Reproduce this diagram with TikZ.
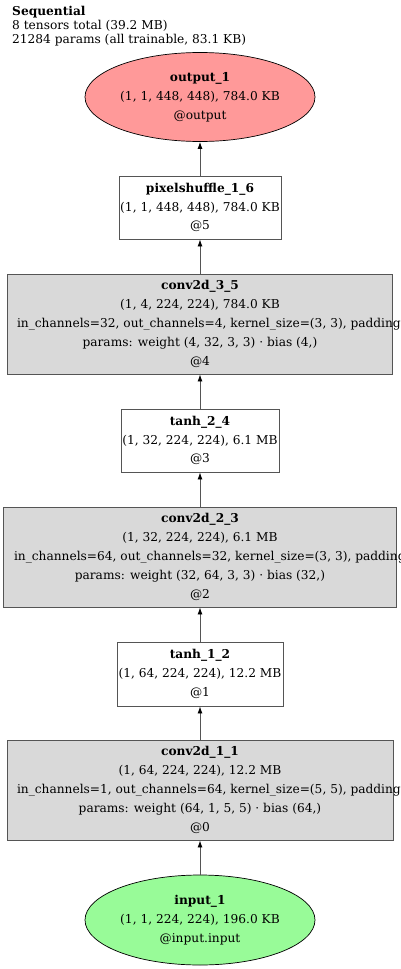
\documentclass[tikz,border=0pt]{standalone}
\usepackage{fontspec}
\setmainfont{DejaVu Serif}
\usetikzlibrary{arrows.meta,shapes.geometric}
\definecolor{tgEdge}{HTML}{555555}
\definecolor{tgOpFill}{HTML}{D9D9D9}
\definecolor{tgOut}{HTML}{FF9999}
\definecolor{tgIn}{HTML}{98FB98}

\begin{document}
\begin{tikzpicture}[x=1pt,y=-1pt,
    font=\fontsize{12.2}{18.8}\selectfont,
    opbox/.style={draw=tgEdge,line width=0.9pt,fill=tgOpFill,rectangle,
                  inner sep=0pt,align=center},
    actbox/.style={opbox,fill=white},
    tnode/.style={ellipse,draw=black,line width=0.7pt,inner sep=0pt,align=center,
                  minimum width=230pt,minimum height=89pt},
    arr/.style={-{Latex[length=7pt,width=5pt,color=black]},tgEdge,line width=0.9pt}]
  \clip (0,0) rectangle (400,969);
  \node[anchor=north west,align=left,inner sep=0pt,font=\fontsize{12.2}{14}\selectfont] (hdr) at (12,6)
    {\textbf{Sequential}\\8 tensors total (39.2 MB)\\21284 params (all trainable, 83.1 KB)};
  \node[tnode,fill=tgOut] (out1) at (200,97)
    {\textbf{output\_1}\\(1, 1, 448, 448), 784.0 KB\\@output};
  \node[actbox,minimum width=162pt,minimum height=63pt] (ps16) at (200,207.5)
    {\textbf{pixelshuffle\_1\_6}\\(1, 1, 448, 448), 784.0 KB\\@5};
  \node[opbox,minimum width=385pt,minimum height=100pt] (conv35) at (200,324)
    {\textbf{conv2d\_3\_5}\\(1, 4, 224, 224), 784.0 KB\\
     \makebox[366pt][l]{in\_channels=32, out\_channels=4, kernel\_size=(3, 3), padding}\\
     params: weight (4, 32, 3, 3) · bias (4,)\\@4};
  \node[actbox,minimum width=158pt,minimum height=63pt] (tanh24) at (200,440.5)
    {\textbf{tanh\_2\_4}\\(1, 32, 224, 224), 6.1 MB\\@3};
  \node[opbox,minimum width=393pt,minimum height=100pt] (conv23) at (200,557)
    {\textbf{conv2d\_2\_3}\\(1, 32, 224, 224), 6.1 MB\\
     \makebox[372pt][l]{in\_channels=64, out\_channels=32, kernel\_size=(3, 3), padding}\\
     params: weight (32, 64, 3, 3) · bias (32,)\\@2};
  \node[actbox,minimum width=166pt,minimum height=64pt] (tanh12) at (200,674)
    {\textbf{tanh\_1\_2}\\(1, 64, 224, 224), 12.2 MB\\@1};
  \node[opbox,minimum width=386pt,minimum height=100pt] (conv11) at (200,790)
    {\textbf{conv2d\_1\_1}\\(1, 64, 224, 224), 12.2 MB\\
     \makebox[366pt][l]{in\_channels=1, out\_channels=64, kernel\_size=(5, 5), padding}\\
     params: weight (64, 1, 5, 5) · bias (64,)\\@0};
  \node[tnode,fill=tgIn,minimum height=90pt] (in1) at (200,920)
    {\textbf{input\_1}\\(1, 1, 224, 224), 196.0 KB\\@input.input};
  \draw[arr] (in1.north) -- (conv11.south);
  \draw[arr] (conv11.north) -- (tanh12.south);
  \draw[arr] (tanh12.north) -- (conv23.south);
  \draw[arr] (conv23.north) -- (tanh24.south);
  \draw[arr] (tanh24.north) -- (conv35.south);
  \draw[arr] (conv35.north) -- (ps16.south);
  \draw[arr] (ps16.north) -- (out1.south);
\end{tikzpicture}
\end{document}
